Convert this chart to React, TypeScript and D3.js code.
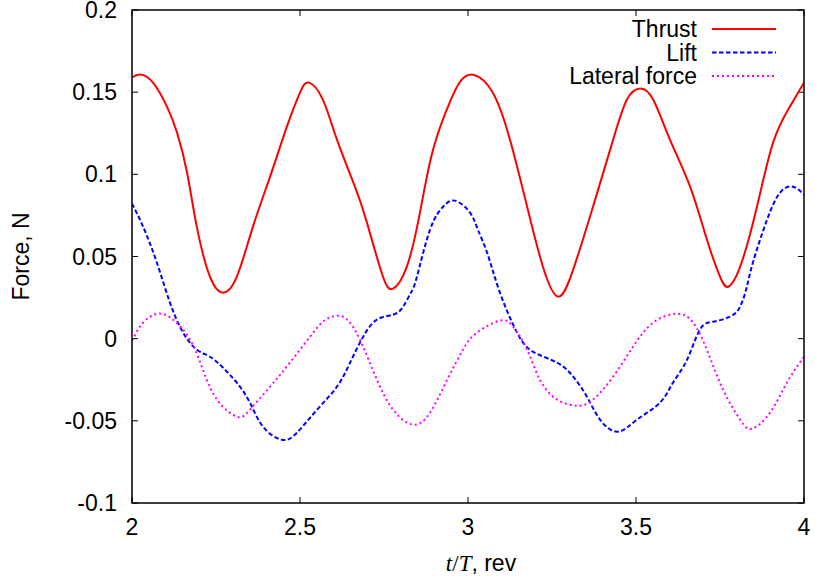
import React from "react";
import * as d3 from "d3";

const thrustX = [2.000, 2.024, 2.0625, 2.104, 2.134, 2.164, 2.193, 2.232, 2.271, 2.312, 2.360, 2.411, 2.461, 2.500, 2.527, 2.568, 2.610, 2.670, 2.708, 2.747, 2.777, 2.818, 2.857, 2.896, 2.946, 2.979, 3.018, 3.074, 3.125, 3.176, 3.223, 3.268, 3.313, 3.372, 3.432, 3.473, 3.512, 3.551, 3.601, 3.661, 3.711, 3.750, 3.774, 3.810, 3.860, 3.908, 3.958, 4.000];
const thrustY = [0.1589, 0.1607, 0.1558, 0.1412, 0.1254, 0.1010, 0.0680, 0.0377, 0.0280, 0.0377, 0.0682, 0.0986, 0.1290, 0.1497, 0.1558, 0.1455, 0.1211, 0.0889, 0.0645, 0.0377, 0.0304, 0.0438, 0.0767, 0.1150, 0.1440, 0.1570, 0.1605, 0.1497, 0.1211, 0.0803, 0.0438, 0.0256, 0.0420, 0.0803, 0.1211, 0.1455, 0.1522, 0.1455, 0.1211, 0.0925, 0.0603, 0.0377, 0.0316, 0.0438, 0.0803, 0.1193, 0.1412, 0.1558];

const liftX = [2.000, 2.033, 2.074, 2.113, 2.152, 2.193, 2.232, 2.271, 2.312, 2.351, 2.390, 2.446, 2.491, 2.551, 2.610, 2.649, 2.688, 2.729, 2.777, 2.807, 2.830, 2.848, 2.887, 2.926, 2.961, 3.006, 3.030, 3.057, 3.095, 3.146, 3.193, 3.265, 3.313, 3.354, 3.393, 3.446, 3.503, 3.571, 3.610, 3.652, 3.690, 3.729, 3.780, 3.810, 3.830, 3.848, 3.890, 3.929, 3.967, 4.000];
const liftY = [0.0822, 0.0682, 0.0463, 0.0219, 0.0037, -0.0067, -0.0110, -0.0177, -0.0268, -0.0390, -0.0536, -0.0615, -0.0572, -0.0432, -0.0292, -0.0146, 0.0012, 0.0116, 0.0146, 0.0195, 0.0280, 0.0377, 0.0663, 0.0803, 0.0840, 0.0767, 0.0660, 0.0523, 0.0280, 0.0037, -0.0079, -0.0146, -0.0231, -0.0353, -0.0493, -0.0566, -0.0493, -0.0390, -0.0268, -0.0128, 0.0055, 0.0103, 0.0134, 0.0195, 0.0316, 0.0463, 0.0724, 0.0889, 0.0925, 0.0876];

const latX = [2.000, 2.033, 2.077, 2.122, 2.173, 2.211, 2.253, 2.312, 2.351, 2.411, 2.470, 2.530, 2.568, 2.610, 2.649, 2.688, 2.729, 2.777, 2.836, 2.887, 2.938, 2.985, 3.027, 3.095, 3.134, 3.176, 3.214, 3.265, 3.324, 3.372, 3.432, 3.491, 3.551, 3.622, 3.670, 3.711, 3.759, 3.810, 3.845, 3.899, 3.949, 4.000];
const latY = [-0.0012, 0.0097, 0.0152, 0.0116, -0.0006, -0.0189, -0.0371, -0.0475, -0.0432, -0.0292, -0.0146, 0.0012, 0.0103, 0.0140, 0.0097, -0.0049, -0.0250, -0.0432, -0.0523, -0.0450, -0.0250, -0.0067, 0.0037, 0.0110, 0.0073, -0.0067, -0.0250, -0.0371, -0.0408, -0.0371, -0.0231, -0.0049, 0.0097, 0.0152, 0.0097, -0.0067, -0.0310, -0.0493, -0.0548, -0.0450, -0.0268, -0.0110];

const xTicks = [2, 2.5, 3, 3.5, 4];
const xTickLabels = ["2", "2.5", "3", "3.5", "4"];
const yTicks = [-0.1, -0.05, 0, 0.05, 0.1, 0.15, 0.2];
const yTickLabels = ["-0.1", "-0.05", "0", "0.05", "0.1", "0.15", "0.2"];
const seriesNames = ["Thrust", "Lift", "Lateral force"];
const seriesColors = ["#ff0000", "#0000ff", "#ff00ff"];
const seriesDash = ["none", "4.5,2.5", "2,3"];

export default function App() {
  const W = 815, H = 578;
  const L = 132, R = 804, T = 10, B = 503;
  const x = d3.scaleLinear().domain([2, 4]).range([L, R]);
  const y = d3.scaleLinear().domain([-0.1, 0.2]).range([B, T]);
  const line = d3
    .line<[number, number]>()
    .x((d) => x(d[0]))
    .y((d) => y(d[1]))
    .curve(d3.curveNatural);
  const series = [
    thrustX.map((v, i) => [v, thrustY[i]] as [number, number]),
    liftX.map((v, i) => [v, liftY[i]] as [number, number]),
    latX.map((v, i) => [v, latY[i]] as [number, number]),
  ];
  const font = "'Liberation Sans', Arial, Helvetica, sans-serif";
  const fs = 23;
  const tickLen = 6;
  return (
    <svg width={W} height={H} style={{ position: "absolute", left: 0, top: 0, background: "#fff" }}>
      <rect x={0} y={0} width={W} height={H} fill="#fff" />
      <defs>
        <clipPath id="plotclip">
          <rect x={L} y={T} width={R - L} height={B - T} />
        </clipPath>
      </defs>
      {yTicks.map((t, i) => (
        <g key={"y" + i}>
          <line x1={L} x2={L + tickLen} y1={y(t)} y2={y(t)} stroke="#000" strokeWidth={1} />
          <line x1={R} x2={R - tickLen} y1={y(t)} y2={y(t)} stroke="#000" strokeWidth={1} />
          <text x={L - 15} y={y(t)} dy="0.35em" textAnchor="end" fontFamily={font} fontSize={fs} fill="#000">
            {yTickLabels[i]}
          </text>
        </g>
      ))}
      {xTicks.map((t, i) => (
        <g key={"x" + i}>
          <line x1={x(t)} x2={x(t)} y1={B} y2={B - tickLen} stroke="#000" strokeWidth={1} />
          <line x1={x(t)} x2={x(t)} y1={T} y2={T + tickLen} stroke="#000" strokeWidth={1} />
          <text x={x(t)} y={535} textAnchor="middle" fontFamily={font} fontSize={fs} fill="#000">
            {xTickLabels[i]}
          </text>
        </g>
      ))}
      <g clipPath="url(#plotclip)">
        {series.map((s, i) => (
          <path
            key={"s" + i}
            d={line(s) || ""}
            fill="none"
            stroke={seriesColors[i]}
            strokeWidth={2}
            strokeDasharray={seriesDash[i] === "none" ? undefined : seriesDash[i]}
          />
        ))}
      </g>
      <rect x={L} y={T} width={R - L} height={B - T} fill="none" stroke="#000" strokeWidth={1.5} />
      {seriesNames.map((n, i) => {
        const ly = 29 + i * 23.5;
        return (
          <g key={"l" + i}>
            <text x={697} y={ly} dy="0.35em" textAnchor="end" fontFamily={font} fontSize={fs} fill="#000">
              {n}
            </text>
            <line
              x1={712}
              x2={776}
              y1={ly}
              y2={ly}
              stroke={seriesColors[i]}
              strokeWidth={2}
              strokeDasharray={seriesDash[i] === "none" ? undefined : seriesDash[i]}
            />
          </g>
        );
      })}
      <text x={481} y={571} textAnchor="middle" fontSize={fs} fill="#000">
        <tspan fontFamily="'Liberation Serif', 'DejaVu Serif', serif" fontStyle="italic">t</tspan>
        <tspan fontFamily="'Liberation Serif', 'DejaVu Serif', serif">/</tspan>
        <tspan fontFamily="'Liberation Serif', 'DejaVu Serif', serif" fontStyle="italic">T</tspan>
        <tspan fontFamily={font}>, rev</tspan>
      </text>
      <text
        transform={`translate(29, ${(T + B) / 2}) rotate(-90)`}
        textAnchor="middle"
        fontFamily={font}
        fontSize={fs}
        fill="#000"
      >
        Force, N
      </text>
    </svg>
  );
}
